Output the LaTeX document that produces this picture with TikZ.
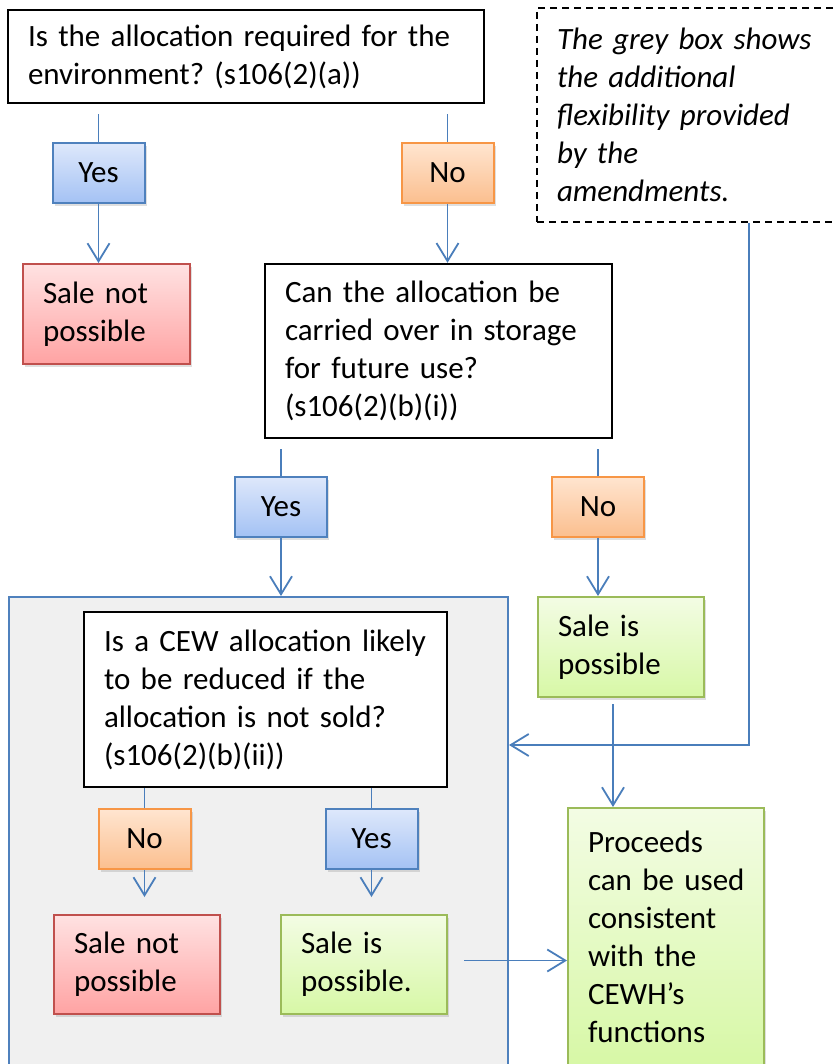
\documentclass[tikz,border=0pt]{standalone}
\usepackage{fontspec}
\setmainfont{Carlito}
\usepackage{xcolor}
\usetikzlibrary{calc}
\usetikzlibrary{arrows.meta}
\usetikzlibrary{shadows}
\frenchspacing

\definecolor{linkblue}{RGB}{74,126,187}
\definecolor{yestop}{RGB}{222,232,251}
\definecolor{yesbot}{RGB}{164,194,244}
\definecolor{yesline}{RGB}{79,129,189}
\definecolor{notop}{RGB}{255,229,208}
\definecolor{nobot}{RGB}{251,191,143}
\definecolor{noline}{RGB}{247,150,70}
\definecolor{redtop}{RGB}{255,226,226}
\definecolor{redbot}{RGB}{255,163,163}
\definecolor{redline}{RGB}{192,80,77}
\definecolor{greentop}{RGB}{243,252,228}
\definecolor{greenbot}{RGB}{215,248,166}
\definecolor{greenline}{RGB}{155,187,89}
\definecolor{greyfill}{RGB}{240,240,240}

\begin{document}
\begin{tikzpicture}[x = 1pt, y = -1pt, font = \fontsize{31}{38}\selectfont]
	\tikzstyle{edge}=[draw,line width = 1.8pt,-,linkblue]
	\tikzstyle{arrow}=[edge,-{Straight Barb[length=18pt,width=22pt]}]
	\tikzstyle{lift}=[drop shadow={shadow xshift=2pt,shadow yshift=-3pt,opacity=.25}]
	\tikzstyle{question}=[draw,line width = 2.4pt,fill=white,inner xsep=20pt,align=left]
	\tikzstyle{answer}=[line width = 2pt,minimum height=60pt,lift]
	\tikzstyle{yesbox}=[answer,draw=yesline,top color=yestop,bottom color=yesbot,minimum width=92pt]
	\tikzstyle{nobox}=[answer,draw=noline,top color=notop,bottom color=nobot,minimum width=92pt]
	\tikzstyle{outcome}=[line width = 2pt,inner xsep=20pt,align=left,lift]
	\tikzstyle{notsale}=[outcome,draw=redline,top color=redtop,bottom color=redbot]
	\tikzstyle{sale}=[outcome,draw=greenline,top color=greentop,bottom color=greenbot]
	\tikzstyle{note}=[draw,line width = 1.8pt,dash pattern=on 7pt off 5pt,inner xsep=20pt,align=left,font=\fontsize{31}{38}\selectfont\itshape]
	\useasboundingbox (0,0) rectangle (834,1064);

	\node[question,text width=436pt,minimum height=93pt] (q1) at (246,56.5) {Is the allocation required for the\\environment? (s106(2)(a))};
	\node[note,text width=259pt,minimum height=214pt] (note) at (686.5,115) {The grey box shows\\the additional\\flexibility provided\\by the\\amendments.};
	\node[yesbox] (yes1) at (98.5,173) {Yes};
	\node[nobox] (no1) at (447.5,173) {No};
	\node[notsale,text width=127pt,minimum height=100pt] (sale1) at (106.5,314) {Sale not\\possible};
	\node[question,text width=307pt,minimum height=174pt] (q2) at (438.5,351) {Can the allocation be\\carried over in storage\\for future use?\\(s106(2)(b)(i))};
	\node[yesbox] (yes2) at (281,506.5) {Yes};
	\node[nobox] (no2) at (598,506.5) {No};

	\node[draw=yesline,line width = 2pt,fill=greyfill,minimum width=499pt,minimum height=473pt] (amend) at (258.5,833.5) {};
	\node[sale,text width=126pt,minimum height=100pt] (sale2) at (621,647) {Sale is\\possible};
	\node[question,text width=323pt,minimum height=175pt] (q3) at (265.5,699.5) {Is a CEW allocation likely\\to be reduced if the\\allocation is not sold?\\(s106(2)(b)(ii))};
	\node[nobox] (no3) at (144.5,839) {No};
	\node[yesbox] (yes3) at (371.5,839) {Yes};
	\node[notsale,text width=126pt,minimum height=99pt] (sale3) at (137,964.5) {Sale not\\possible};
	\node[sale,text width=126pt,minimum height=99pt] (sale4) at (364,964.5) {Sale is\\possible.};
	\node[sale,text width=156pt,minimum height=258pt] (proceeds) at (666,937) {Proceeds\\can~be~used\\consistent\\with the\\CEWH’s\\functions};
	\coordinate (turn) at (749,745);

	\draw[edge,shorten <=10pt] (q1.south -| yes1.north) -- (yes1.north);
	\draw[arrow] (yes1.south) -- (yes1.south |- sale1.north);
	\draw[edge,shorten <=10pt] (q1.south -| no1.north) -- (no1.north);
	\draw[arrow] (no1.south) -- (no1.south |- q2.north);
	\draw[edge,shorten <=10pt] (q2.south -| yes2.north) -- (yes2.north);
	\draw[arrow] (yes2.south) -- (yes2.south |- amend.north);
	\draw[edge,shorten <=10pt] (q2.south -| no2.north) -- (no2.north);
	\draw[arrow] (no2.south) -- (no2.south |- sale2.north);
	\draw[arrow] (note.south -| turn) -- (turn) -- (amend.east |- turn);
	\draw[arrow,shorten <=6pt] ([xshift=-8pt]sale2.south) -- ([xshift=-8pt]sale2.south |- proceeds.north);
	\draw[edge] (q3.south -| no3.north) -- (no3.north);
	\draw[arrow,shorten >=17pt] (no3.south) -- (no3.south |- sale3.north);
	\draw[edge] (q3.south -| yes3.north) -- (yes3.north);
	\draw[arrow,shorten >=17pt] (yes3.south) -- (yes3.south |- sale4.north);
	\draw[arrow,shorten <=16pt] ([yshift=4pt]sale4.east) -- ([yshift=4pt]sale4.east -| proceeds.west);
\end{tikzpicture}
\end{document}
